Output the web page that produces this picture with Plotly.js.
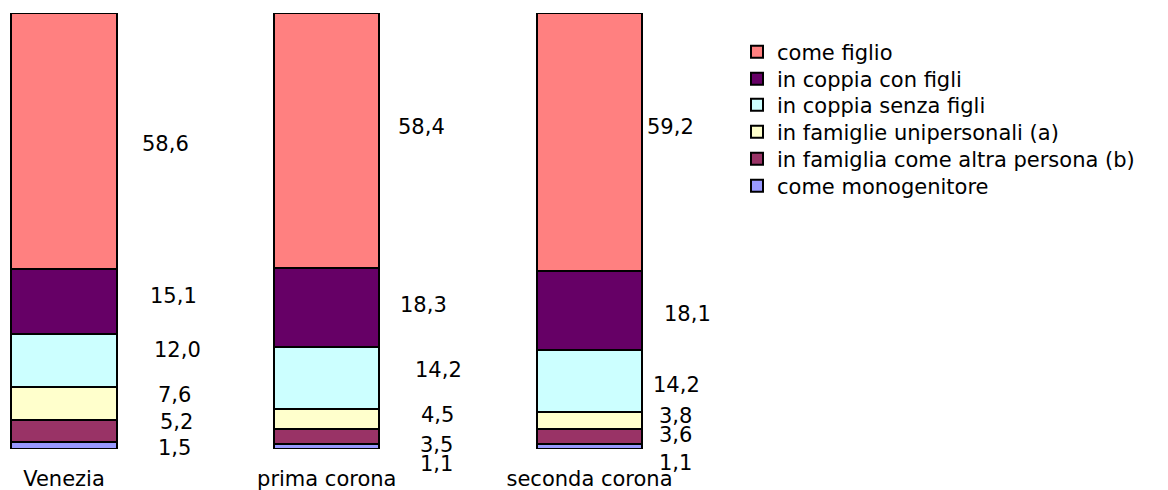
<!DOCTYPE html>
<html>
<head>
<meta charset="utf-8">
<script src="https://cdn.plot.ly/plotly-3.0.1.min.js"></script>
<style>html,body{margin:0;padding:0;background:#fff;}#chart{width:1168px;height:490px;}</style>
</head>
<body>
<div id="chart"></div>
<script>
// ---- data ----
const categories = ["Venezia", "prima corona", "seconda corona"];
// series listed bottom-to-top of the stack
const seriesNames = [
  "come monogenitore",
  "in famiglia come altra persona (b)",
  "in famiglie unipersonali (a)",
  "in coppia senza figli",
  "in coppia con figli",
  "come figlio"
];
const comeMonogenitore = [1.5, 1.1, 1.1];
const altraPersona     = [5.2, 3.5, 3.6];
const unipersonali     = [7.6, 4.5, 3.8];
const coppiaSenzaFigli = [12.0, 14.2, 14.2];
const coppiaConFigli   = [15.1, 18.3, 18.1];
const comeFiglio       = [58.6, 58.4, 59.2];
const seriesValues = [comeMonogenitore, altraPersona, unipersonali, coppiaSenzaFigli, coppiaConFigli, comeFiglio];

// ---- styles ----
const colors = ["#9999FF", "#993366", "#FFFFCC", "#CCFFFF", "#660066", "#FF8080"];
const FONT = "DejaVu Sans, Verdana, sans-serif";
// label placement tweaks (px) per category, per series (bottom-to-top)
const labelDx = [
  [110, 112, 110, 113, 109, 101],
  [110, 110, 111, 112, 97, 95],
  [86, 86, 86, 87, 98, 81]
];
const labelDy = [
  [2, -9, -8, -10, -5, 3],
  [17, 8, -4, -8, -3, -13],
  [16, -1, -4, 4, 3, -15]
];
// legend rows (top-to-bottom order = reversed series), pixel centres
const legendRowPx = [52, 79, 105, 132, 159, 186];

const plotTop = 13, plotBottom = 449, H = 490, W = 1168;

const traces = seriesValues.map((vals, i) => {
  const legendIdx = seriesNames.length - 1 - i; // top series first
  return {
    type: "bar",
    name: seriesNames[i],
    x: categories,
    y: vals,
    width: 0.4,
    marker: {color: colors[i], line: {color: "#000000", width: 2}},
    legend: legendIdx === 0 ? "legend" : "legend" + (legendIdx + 1),
    hoverinfo: "none"
  };
});

const annotations = [];
categories.forEach((cat, c) => {
  let cum = 0;
  seriesValues.forEach((vals, s) => {
    const v = vals[c];
    const mid = cum + v / 2;
    cum += v;
    annotations.push({
      x: cat, y: mid, xref: "x", yref: "y",
      text: v.toFixed(1).replace(".", ","),
      showarrow: false,
      xanchor: "center", yanchor: "middle",
      xshift: labelDx[c][s], yshift: -labelDy[c][s],
      font: {family: FONT, size: 21, color: "#000"}
    });
  });
});

const layout = {
  width: W, height: H,
  margin: {l: 0, r: 0, t: plotTop, b: H - plotBottom, pad: 0},
  paper_bgcolor: "#ffffff",
  plot_bgcolor: "#ffffff",
  barmode: "stack",
  bargap: 0,
  font: {family: FONT, size: 21, color: "#000"},
  xaxis: {
    type: "category",
    domain: [0, 720 / W],
    range: [-64 / 262.75, (720 - 64) / 262.75],
    showline: false, showgrid: false, zeroline: false,
    ticks: "outside", ticklen: 11, tickcolor: "rgba(0,0,0,0)",
    tickfont: {family: FONT, size: 21, color: "#000"},
    fixedrange: true
  },
  yaxis: {
    range: [0, 100],
    visible: false,
    showgrid: false, zeroline: false,
    fixedrange: true
  },
  annotations: annotations,
  showlegend: true
};

const plotH = plotBottom - plotTop;
legendRowPx.forEach((py, k) => {
  const key = k === 0 ? "legend" : "legend" + (k + 1);
  layout[key] = {
    x: (777 - 40) / W, xanchor: "left",
    y: (plotBottom - py) / plotH, yanchor: "middle",
    bgcolor: "rgba(0,0,0,0)",
    borderwidth: 0,
    font: {family: FONT, size: 21, color: "#000"}
  };
});

Plotly.newPlot("chart", traces, layout, {staticPlot: true, displayModeBar: false});
</script>
</body>
</html>
